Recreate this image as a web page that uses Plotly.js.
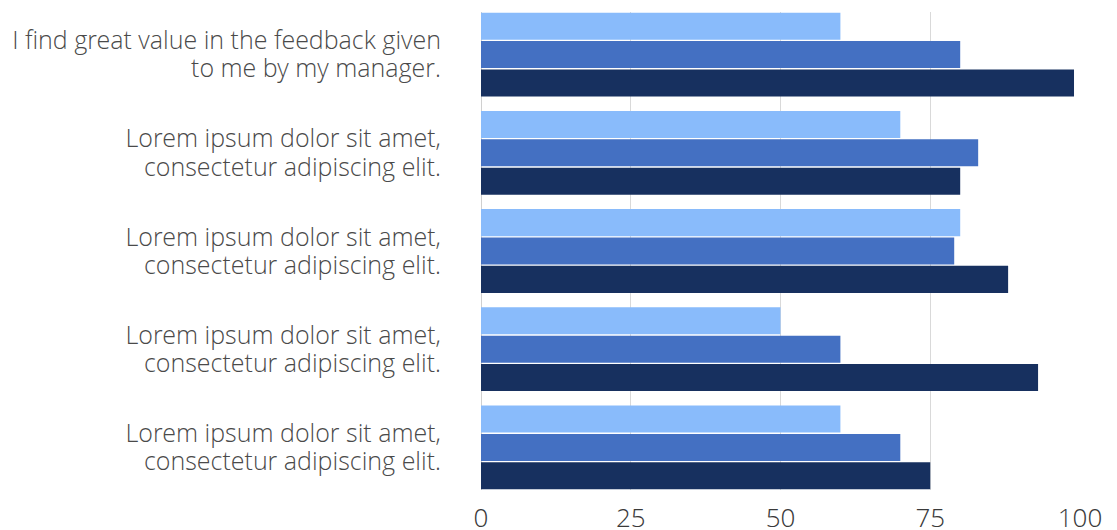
<!DOCTYPE html>
<html>
<head>
<meta charset="utf-8">
<script src="https://cdn.plot.ly/plotly-3.0.1.min.js"></script>
<style>
  html, body { margin: 0; padding: 0; background: #ffffff; }
  #chart { width: 1117px; height: 530px; }
</style>
</head>
<body>
<div id="chart"></div>
<script>
// Survey statements, listed top to bottom, each split over two lines
const statementLine1 = [
  "I find great value in the feedback given",
  "Lorem ipsum dolor sit amet,",
  "Lorem ipsum dolor sit amet,",
  "Lorem ipsum dolor sit amet,",
  "Lorem ipsum dolor sit amet,"
];
const statementLine2 = [
  "to me by my manager.",
  "consectetur adipiscing elit.",
  "consectetur adipiscing elit.",
  "consectetur adipiscing elit.",
  "consectetur adipiscing elit."
];
const rowIds = [0, 1, 2, 3, 4];

// Scores per statement for each of the three groups
const seriesA = [60, 70, 80, 50, 60];
const seriesB = [80, 83, 79, 60, 70];
const seriesC = [99, 80, 88, 93, 75];

const xTicks = [0, 25, 50, 75, 100];

const colors = ["#89bbfb", "#4470c2", "#17305f"];
const seriesList = [seriesA, seriesB, seriesC];

const traces = seriesList.map((vals, i) => ({
  type: "bar",
  orientation: "h",
  x: vals,
  y: rowIds,
  marker: { color: colors[i], line: { width: 0 } },
  hoverinfo: "x",
  showlegend: false
}));

const bargap = 0.133;
const half = (1 - bargap) / 2;

// Each statement is drawn as two tick labels, one above and one below the row centre,
// so the two lines sit closer than the default multi-line spacing.
const lineOffset = 0.143;
const labelVals = [];
const labelText = [];
rowIds.forEach((id, i) => {
  labelVals.push(id - lineOffset, id + lineOffset);
  labelText.push(statementLine1[i], statementLine2[i]);
});

const lightFont = "Open Sans Light, Open Sans, sans-serif";

const layout = {
  width: 1117,
  height: 530,
  margin: { l: 481, r: 37, t: 12, b: 40, pad: 0 },
  paper_bgcolor: "#ffffff",
  plot_bgcolor: "#ffffff",
  barmode: "group",
  bargap: bargap,
  bargroupgap: 0.047,
  font: { family: lightFont, weight: 300, color: "#4a4a4a" },
  xaxis: {
    range: [0, 100],
    tickvals: xTicks,
    ticktext: xTicks.map(String),
    showgrid: true,
    gridcolor: "#d9d9d9",
    gridwidth: 1,
    zeroline: true,
    zerolinecolor: "#d0d0d0",
    zerolinewidth: 1,
    showline: false,
    ticks: "",
    ticklabelstandoff: 10,
    tickfont: { family: lightFont, weight: 300, size: 26, color: "#3a3a3a" },
    fixedrange: true
  },
  yaxis: {
    range: [rowIds[rowIds.length - 1] + half, rowIds[0] - half],
    tickvals: labelVals,
    ticktext: labelText,
    showgrid: false,
    zeroline: false,
    showline: false,
    ticks: "",
    ticklabelstandoff: 39,
    tickfont: { family: lightFont, weight: 300, size: 25, color: "#4a4a4a" },
    fixedrange: true
  }
};

Plotly.newPlot("chart", traces, layout, { displayModeBar: false, staticPlot: true });
</script>
</body>
</html>
